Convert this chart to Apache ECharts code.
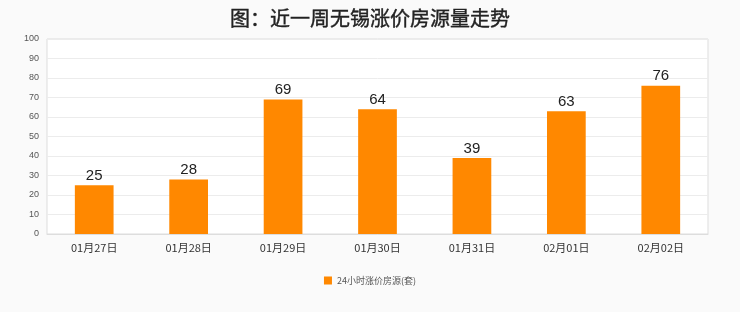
<!DOCTYPE html>
<html><head><meta charset="utf-8">
<script src="https://cdn.jsdelivr.net/npm/echarts@6/dist/echarts.min.js"></script>
<style>html,body{margin:0;padding:0;background:#fafafa}#c{width:740px;height:312px}</style>
</head><body><div id="c"></div>
<script>
const categories = ['01月27日','01月28日','01月29日','01月30日','01月31日','02月01日','02月02日'];
const values = [25, 28, 69, 64, 39, 63, 76];
const seriesName = '24小时涨价房源(套)';
const titleText = '图：近一周无锡涨价房源量走势';
const chart = echarts.init(document.getElementById('c'));
chart.setOption({
  backgroundColor: '#fafafa',
  title: {text: titleText, left: 'center', top: 3,
    textStyle: {fontSize: 20, fontWeight: 'normal', color: '#222', fontFamily: 'Noto Sans CJK SC',
      textBorderColor: '#222', textBorderWidth: 0.4}},
  legend: {bottom: 22, left: 'center', itemWidth: 8, itemHeight: 8, icon: 'rect',
    textStyle: {fontSize: 9, color: '#555', fontFamily: 'Noto Sans CJK SC'}},
  grid: {left: 47, right: 32, top: 39, bottom: 78, show: true, backgroundColor: '#fff', borderColor: '#ddd'},
  xAxis: {type: 'category', data: categories,
    axisLine: {lineStyle: {color: '#ddd'}}, axisTick: {show: false},
    axisLabel: {color: '#333', fontSize: 11, margin: 8, fontFamily: 'Noto Sans CJK SC'}},
  yAxis: {type: 'value', min: 0, max: 100, interval: 10,
    axisLine: {show: false}, axisTick: {show: false},
    splitLine: {lineStyle: {color: '#ececec'}},
    axisLabel: {color: '#555', fontSize: 9, margin: 8}},
  series: [{name: seriesName, type: 'bar', data: values, barWidth: '41%',
    itemStyle: {color: '#ff8800'},
    label: {show: true, position: 'top', color: '#222', fontSize: 15, distance: 2}}]
});
</script></body></html>
